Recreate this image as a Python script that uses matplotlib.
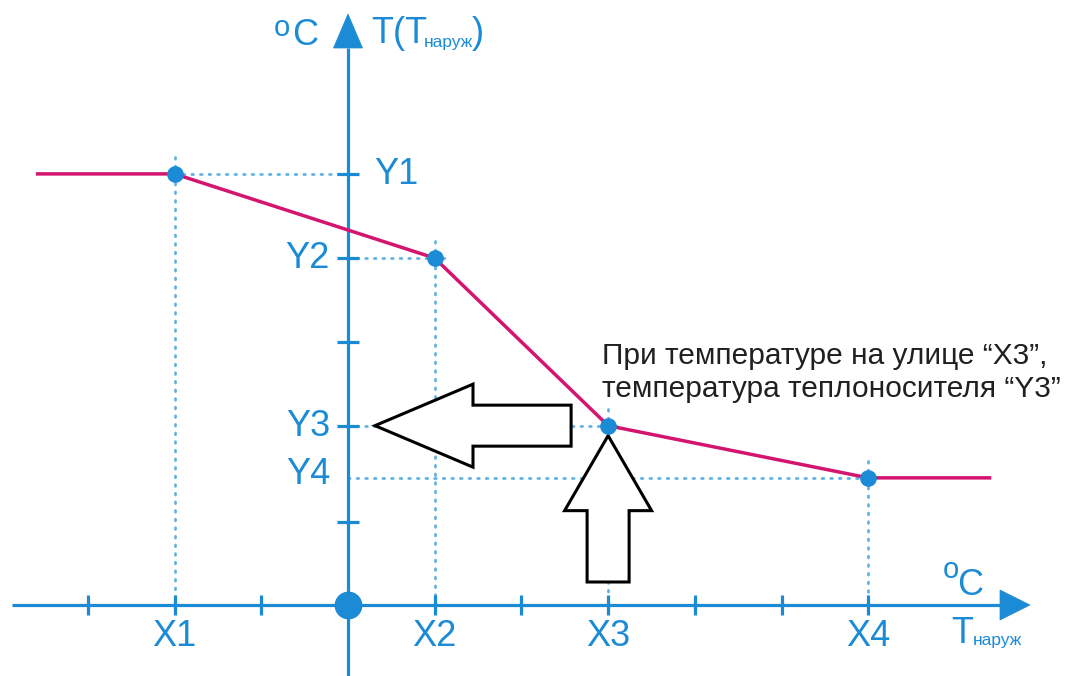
import matplotlib
matplotlib.use("Agg")
import matplotlib.pyplot as plt
from matplotlib.patches import FancyArrow, Polygon

plt.rcParams['font.family'] = ['Liberation Sans', 'DejaVu Sans']

# ---- data -------------------------------------------------------------
x_labels = ['X1', 'X2', 'X3', 'X4']
x_points = [-2, 1, 3, 6]
y_labels = ['Y1', 'Y2', 'Y3', 'Y4']
y_points = [5.12, 4.12, 2.13, 1.51]
curve_left = -3.58
curve_right = 7.40
x_ticks = [-3, -2, -1, 0, 1, 2, 3, 4, 5, 6]
y_ticks = [0.99, 2.13, 3.12, 4.12, 5.12]

curve_x = [curve_left] + x_points + [curve_right]
curve_y = [y_points[0]] + y_points + [y_points[-1]]

# ---- style ------------------------------------------------------------
BLUE = '#1b8bd6'
DOT_BLUE = '#62b2e4'
PINK = '#d4156f'
TEXT_DARK = '#202020'

W, H = 1076, 676
OX, OY = 348, 605          # pixel position of the origin
SX, SY = 86.7, 84.2        # pixels per unit


def px(x, y):
    """Convert a pixel position to data coordinates."""
    return (x - OX) / SX, (OY - y) / SY


fig = plt.figure(figsize=(W / 100, H / 100), dpi=100)
ax = fig.add_axes([0, 0, 1, 1])
ax.set_xlim(-OX / SX, (W - OX) / SX)
ax.set_ylim(-(H - OY) / SY, OY / SY)
ax.axis('off')

# ---- axes with arrow heads --------------------------------------------
x0, _ = px(12, 0)
xtip, _ = px(1030, 0)
xbase, _ = px(1000, 0)
ax.plot([x0, xbase], [0, 0], color=BLUE, lw=2.3, zorder=3, solid_capstyle='butt')
hh = 15 / SY
ax.add_patch(Polygon([[xbase, -hh], [xtip, 0], [xbase, hh]], closed=True,
                     fc=BLUE, ec=BLUE, lw=0.5, zorder=3))

_, ybot = px(0, 680)
_, ytip = px(0, 14)
_, ybase = px(0, 48)
ax.plot([0, 0], [ybot, ybase], color=BLUE, lw=2.3, zorder=3, solid_capstyle='butt')
hw = 14.5 / SX
ax.add_patch(Polygon([[-hw, ybase], [0, ytip], [hw, ybase]], closed=True,
                     fc=BLUE, ec=BLUE, lw=0.5, zorder=3))

# tick marks
ax.plot(x_ticks, [0] * len(x_ticks), ls='none', marker='|', ms=14.5,
        mew=2.3, color=BLUE, zorder=3)
ax.plot([0] * len(y_ticks), y_ticks, ls='none', marker='_', ms=16,
        mew=2.3, color=BLUE, zorder=3)

# origin
ax.plot([0], [0], 'o', ms=19, color=BLUE, zorder=4)

# ---- dotted guide lines ----------------------------------------------
ext_x = 0.15
ext_y = 0.2
for xv, yv in zip(x_points, y_points):
    hx_end = xv + ext_x if xv > 0 else xv
    ax.plot([0, hx_end], [yv, yv], color=DOT_BLUE, lw=2,
            ls=(0, (0.6, 2.5)), dash_capstyle='round', zorder=1)
    ax.plot([xv, xv], [yv + ext_y, 0], color=DOT_BLUE, lw=2,
            ls=(0, (0.6, 2.5)), dash_capstyle='round', zorder=1)

# ---- hollow arrows pointing at the X3 / Y3 reading -------------------
x3, y3 = x_points[2], y_points[2]
left_start = x3 - 37 / SX
left_tip = 27 / SX
ax.add_patch(FancyArrow(left_start, y3, left_tip - left_start, 0,
                        width=41 / SY, head_width=83 / SY, head_length=98 / SX,
                        length_includes_head=True, fc='white', ec='black',
                        lw=2.2, joinstyle='miter', zorder=2))
up_start = 23 / SY
up_tip = y3 - 10 / SY
ax.add_patch(FancyArrow(x3, up_start, 0, up_tip - up_start,
                        width=42 / SX, head_width=87 / SX, head_length=75 / SY,
                        length_includes_head=True, fc='white', ec='black',
                        lw=2.2, joinstyle='miter', zorder=2))

# ---- heating curve -----------------------------------------------------
ax.plot(curve_x, curve_y, color=PINK, lw=2.5, zorder=5, solid_joinstyle='round')
ax.plot(x_points, y_points, 'o', ms=11, color=BLUE, zorder=6)

# ---- labels -------------------------------------------------------------
FS = 26
for xv, lab in zip(x_points, x_labels):
    ax.text(xv, px(0, 637)[1], lab, color=BLUE, fontsize=FS,
            ha='center', va='center')

y_label_pos = [(374, 174, 'left'), (330, 258, 'right'),
               (330, 427, 'right'), (330, 474, 'right')]
for (lx, ly, ha), lab in zip(y_label_pos, y_labels):
    ax.text(*px(lx, ly), lab, color=BLUE, fontsize=FS, ha=ha, va='center')

# vertical axis caption
ax.text(*px(274, 36), 'o', color=BLUE, fontsize=21, ha='left', va='baseline')
ax.text(*px(292, 45), 'C', color=BLUE, fontsize=FS, ha='left', va='baseline')
ax.text(*px(371, 43), 'T(T', color=BLUE, fontsize=FS, ha='left', va='baseline')
ax.text(*px(424, 47), 'наруж', color=BLUE, fontsize=12.5, ha='left', va='baseline')
ax.text(*px(472, 43), ')', color=BLUE, fontsize=FS, ha='left', va='baseline')

# horizontal axis caption
ax.text(*px(943, 578), 'o', color=BLUE, fontsize=21, ha='left', va='baseline')
ax.text(*px(957, 595), 'C', color=BLUE, fontsize=FS, ha='left', va='baseline')
ax.text(*px(951, 643), 'T', color=BLUE, fontsize=FS, ha='left', va='baseline')
ax.text(*px(973, 645), 'наруж', color=BLUE, fontsize=12.5, ha='left', va='baseline')

# note
ax.text(*px(602, 364), 'При температуре на улице “X3”,', color=TEXT_DARK,
        fontsize=21.5, ha='left', va='baseline')
ax.text(*px(602, 397), 'температура теплоносителя “Y3”', color=TEXT_DARK,
        fontsize=21.5, ha='left', va='baseline')

fig.savefig('out.png', dpi=100, facecolor='white')
